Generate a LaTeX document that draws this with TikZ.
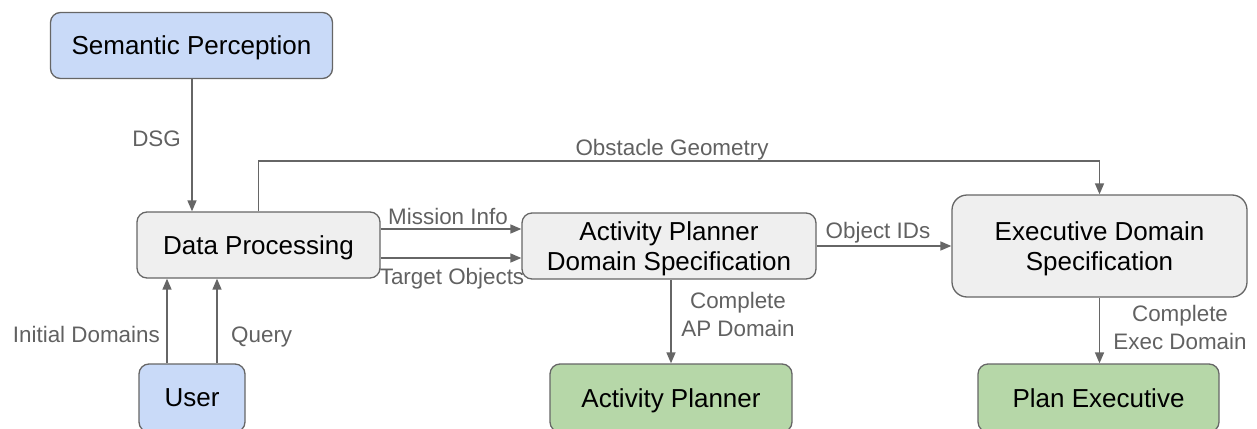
\documentclass[tikz,border=0pt]{standalone}
\usepackage{fontspec}
\setmainfont{Liberation Sans}
\usetikzlibrary{arrows.meta}
\definecolor{linegray}{HTML}{666666}
\definecolor{labelgray}{HTML}{616161}
\definecolor{bluefill}{HTML}{C9DAF8}
\definecolor{greenfill}{HTML}{B6D7A8}
\definecolor{grayfill}{HTML}{EFEFEF}
\tikzset{
  box/.style={draw=linegray, line width=1.3pt, rounded corners=10pt, align=center,
    font=\fontsize{26}{30}\selectfont, text=black, inner sep=0pt, text depth=0pt},
  bluebox/.style={box, fill=bluefill},
  greenbox/.style={box, fill=greenfill},
  graybox/.style={box, fill=grayfill},
  arr/.style={draw=linegray, line width=1.6pt, -{Triangle[length=11pt,width=9pt]}},
  lbl/.style={text=labelgray, font=\fontsize{22.4}{28}\selectfont, inner sep=0pt, align=center},
}
\begin{document}
\begin{tikzpicture}[x=1pt,y=-1pt]
\useasboundingbox (0,0) rectangle (1257,428);
% boxes
\node[bluebox, minimum width=282pt, minimum height=66pt] (sem) at (191.5,45.5) {Semantic Perception};
\node[graybox, minimum width=243pt, minimum height=66pt] (dp) at (258.5,245) {Data Processing};
\node[graybox, minimum width=294pt, minimum height=66pt] (apds) at (669,246) {Activity Planner\\Domain Specification};
\node[graybox, minimum width=295pt, minimum height=102pt, rounded corners=15pt] (eds) at (1099.5,246) {Executive Domain\\Specification};
\node[bluebox, minimum width=106pt, minimum height=68pt] (user) at (192,398) {User};
\node[greenbox, minimum width=242pt, minimum height=68pt] (ap) at (671,398) {Activity Planner};
\node[greenbox, minimum width=241pt, minimum height=68pt] (pe) at (1098.5,398) {Plan Executive};
% coordinates
\coordinate (dsgx) at (192,0);
\coordinate (obsy) at (0,161);
% connectors
\draw[arr] (sem.south -| dsgx) -- (dp.north -| dsgx);
\draw[arr] (dp.north) -- (dp.north |- obsy) -| (eds.north);
\draw[arr] ([yshift=16pt]dp.east) -- ([yshift=16pt]dp.east -| apds.west);
\draw[arr] ([yshift=-13pt]dp.east) -- ([yshift=-13pt]dp.east -| apds.west);
\draw[arr] (apds.east) -- (eds.west);
\draw[arr] (apds.south -| ap.north) -- (ap.north);
\draw[arr] (eds.south) -- (eds.south |- pe.north);
\draw[arr] ([xshift=-25pt]user.north) -- ([xshift=-25pt]user.north |- dp.south);
\draw[arr] ([xshift=25pt]user.north) -- ([xshift=25pt]user.north |- dp.south);
% labels
\node[lbl, anchor=base east] (ldsg) at (181,146) {DSG};
\node[lbl, anchor=base] (lobs) at (672,155) {Obstacle Geometry};
\node[lbl, anchor=base] (lmis) at (448,224) {Mission Info};
\node[lbl, anchor=base] (ltar) at (452,284) {Target Objects};
\node[lbl, anchor=base] (lobj) at (878,238) {Object IDs};
\node[lbl, anchor=north] (lapd) at (738,292) {Complete\\AP Domain};
\node[lbl, anchor=north] (lexd) at (1180,305) {Complete\\Exec Domain};
\node[lbl, anchor=base east] (lini) at (160,342) {Initial Domains};
\node[lbl, anchor=base west] (lqry) at (231,342) {Query};
\end{tikzpicture}
\end{document}
